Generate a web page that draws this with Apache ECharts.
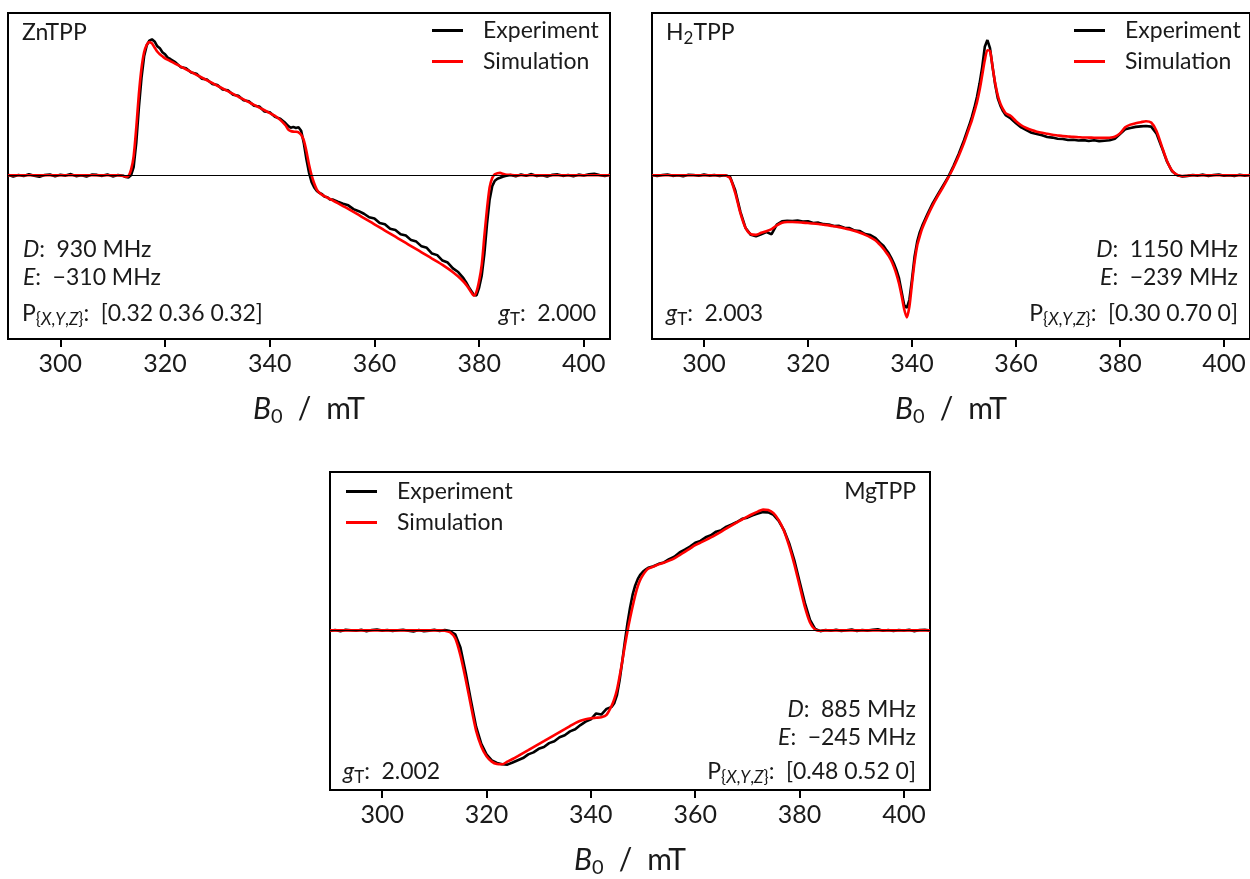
<!DOCTYPE html>
<html>
<head>
<meta charset="utf-8">
<script src="https://cdn.jsdelivr.net/npm/echarts@6/dist/echarts.min.js"></script>
<style>
html, body { margin: 0; background: #fff; }
#main { width: 1250px; height: 879px; }
</style>
</head>
<body>
<div id="main"></div>
<script>
// tick positions on every B0 axis (mT)
var tickValues = [300, 320, 340, 360, 380, 400];

// ---- ZnTPP ----
var znField = [
  290,291,292,293,294,295,296,297,298,299,300,301,302,303,304,305,306,307,308,309,310,311,312,
  312.5,313,313.5,314,314.5,315,315.5,316,316.5,317,317.5,318,318.5,319,319.5,320,320.5,321,
  322,323,324,325,326,327,328,329,330,331,332,333,334,335,336,337,338,339,340,341,342,343,
  343.5,344,344.5,345,345.5,346,346.5,347,347.5,348,348.5,349,349.5,350,350.5,351,351.5,352,
  353,354,355,356,357,358,359,360,361,362,363,364,365,366,367,368,369,370,371,372,373,374,375,376,377,
  377.5,378,378.5,379,379.5,380,380.5,381,381.5,382,382.5,383,383.5,384,384.5,385,
  386,387,388,389,390,391,392,393,394,395,396,397,398,399,400,401,402,403,404,405
];
var znExp = [
  0.5,-0.8,0.3,-0.5,0.8,-0.3,-1,0.2,0.6,-0.7,0.4,-0.2,0.9,-0.6,0.1,-0.9,0.5,0.3,-0.4,0.7,-0.8,0.2,-0.3,
  -1.2,-1.5,0,6,24,50,72,88,96,99.5,100.5,99,95.5,94,91,89.5,87,86,
  83.5,80,79.2,76,75.1,71.5,70.9,67.6,66.8,63.5,62.9,59.6,58.8,55.5,54.8,51.4,50.9,47.2,46.6,43.2,41.9,38.6,
  36.5,35.2,35.8,35,35.5,33,24,12,2,-5,-9,-11.5,-13,-14,-15.8,-16.2,-17.8,-17.9,
  -19.5,-21,-22.2,-25,-26.5,-28.4,-31,-32,-35.3,-36.2,-39.5,-40.4,-43.6,-44.5,-47.9,-49,-52.5,-53.6,-57.8,-59,-63,-64.5,-68.8,-71.5,-76,
  -79,-82.5,-85.5,-88.5,-88.8,-83,-74,-58,-36,-18,-8,-4,-2.5,-1.8,-1,-0.5,
  0.2,-0.7,0.6,-0.3,0.9,-0.5,0.1,-0.8,0.4,0.7,-0.4,0.2,-0.6,0.5,-0.2,0.8,1.2,0.3,-0.5,0.4
];
var znSim = [
  0,0,0,0,0,0,0,0,0,0,0,0,0,0,0,0,0,0,0,0,0,0,-0.5,
  -1,-0.5,4,14,35,60,79,91,96.5,98.5,97.5,94.5,91.5,89.5,88,86.5,85.5,84.5,
  82.4,80.4,78.4,76.3,74.3,72.3,70.3,68.3,66.2,64.2,62.2,60.2,58.1,56.1,54.1,52.1,50.1,48.1,46,44,41,37,
  34,32.8,32.3,32.2,31.8,30,26,18,8,0,-6,-10.5,-13,-14.5,-15.5,-16.5,-17.5,-18.5,
  -20.6,-22.7,-24.8,-27,-29.3,-31.6,-33.9,-36.2,-38.5,-40.8,-43.1,-45.4,-47.7,-50,-52.3,-54.6,-56.9,-59.2,-61.5,-63.8,-66.2,-68.8,-71.6,-74.8,-78.5,
  -80.8,-83.5,-86.5,-89,-86,-78,-66,-45,-25,-9,-2,0.8,1.6,1.8,1.2,0.6,
  0.3,0,0,0,0,0,0,0,0,0,0,0,0,0,0,0,0,0,0,0
];

// ---- H2TPP ----
var h2Field = [
  290,291,292,293,294,295,296,297,298,299,300,301,302,303,304,305,306,307,308,309,310,311,312,313,314,315,316,317,318,319,320,321,322,323,324,325,326,327,328,329,330,331,332,333,
  333.5,334,334.5,335,335.5,336,336.5,337,337.5,338,338.5,339,339.5,340,340.5,341,341.5,342,
  343,344,345,346,347,348,349,350,351,
  351.5,352,352.5,353,353.5,354,354.5,355,355.5,356,356.5,357,357.5,358,
  359,360,361,362,363,364,365,366,367,368,369,370,371,372,373,374,375,376,377,378,379,380,381,382,383,384,385,386,387,388,389,390,391,392,393,394,395,396,397,398,399,400,401,402,403,404,405
];
var h2Exp = [
  0.3,-0.5,0.2,0.6,-0.4,0.1,-0.6,0.4,0.2,-0.3,0.5,-0.2,0.3,-0.5,0.1,
  -1,-11,-27,-39,-44,-45,-43.5,-42,-43.5,-36.5,-34,-33.6,-33.8,-33.5,-34.2,-34,-35.2,-35,-36.1,-36.3,-37.5,-37.4,-38.8,-39,-40.9,-41.2,-43.4,-44.2,-46.5,
  -48.5,-50.5,-52,-54.8,-57.5,-61,-65,-70,-76,-86,-96,-98,-92,-77,-60,-49,-42,-37,
  -28.5,-20.5,-14,-7.5,-1,7,16,26,37,
  43,50,58,68,80,95,100,94,80,67,57,51.5,47.5,44.5,
  42,38.5,35.4,33.5,31.4,30.5,29.6,28.3,27.9,27,26.8,26.1,26.3,25.7,26,25.4,25.9,25.3,25.6,25.9,27,30.5,34,35,35.8,36.2,36.5,36,31,21,10.5,3,0,-0.8,-0.4,
  0.3,-0.2,0.5,-0.4,0.2,0.6,-0.3,0.1,-0.5,0.4,-0.2,0.3
];
var h2Sim = [
  0,0,0,0,0,0,0,0,0,0,0,0,0,0,0,
  -2,-13,-28,-39,-43.5,-44,-42.5,-41.3,-39.8,-37,-35,-34.5,-34.5,-34.7,-35,-35.3,-35.6,-36,-36.5,-37,-37.6,-38.3,-39.2,-40.1,-41.2,-42.5,-44,-45.8,-48.2,
  -50,-52,-54.2,-56.8,-59.5,-63,-67.5,-73,-80,-89,-99,-105,-97,-80,-64,-52,-45,-39,
  -30,-22,-15,-8.5,-1.5,6,14.5,24,35,
  40.5,47,54,63,74,85,92.5,92,80,68,59,53,49,46,
  43.8,40,37,35,33.5,32.3,31.4,30.7,30,29.5,29,28.7,28.4,28.2,28,27.9,27.8,27.7,27.7,27.8,28.5,31,35.5,37.5,38.5,39.3,40,39,33,22,11,3.5,0.3,-0.5,-0.3,
  0,0,0,0,0,0,0,0,0,0,0,0
];

// ---- MgTPP ----
var mgField = [
  290,291,292,293,294,295,296,297,298,299,300,301,302,303,304,305,306,307,308,309,310,311,312,
  313,314,315,316,317,318,319,320,321,322,323,324,325,326,327,328,329,330,331,332,333,334,335,336,337,338,339,340,341,342,343,344,
  344.5,345,345.5,346,346.5,347,347.5,348,348.5,349,349.5,350,350.5,351,
  352,353,354,355,356,357,358,359,360,361,362,363,364,365,366,367,368,369,370,371,372,373,374,375,376,377,378,379,380,381,382,383,384,385,
  386,387,388,389,390,391,392,393,394,395,396,397,398,399,400,401,402,403,404,405
];
var mgExp = [
  -0.4,0.3,-0.6,0.5,0.1,-0.3,0.4,-0.7,0.2,0.6,-0.2,0.3,-0.5,0.1,0.5,-0.3,-0.8,0.2,-0.6,-0.2,0.4,-0.5,0.2,
  -0.5,-3,-13,-32,-53,-73,-86,-94,-98.5,-100.5,-101.5,-101.8,-100.2,-98.5,-96.8,-94,-92.5,-89.8,-88.4,-85.5,-84,-81,-79.5,-76.6,-75,-71.8,-69.2,-67.5,-63,-63.8,-59.5,-58,
  -55,-49,-38,-24,-9,5,17,27,34,39,42.3,44.5,46,47.5,
  48.6,50.4,51.5,54,55.8,59,61.2,63.5,66.4,67.8,70.5,72,74.8,75.9,78.6,80.2,82.1,84.5,85.4,87.2,88.5,89.6,89.4,87.5,83,76,66,53,37,21,8,1,-0.6,0.2,
  -0.3,0.5,-0.4,0.1,0.6,-0.5,0.3,-0.2,0.4,0.8,-0.3,0.2,-0.5,0.3,-0.1,0.4,-0.6,0.2,0.5,-0.2
];
var mgSim = [
  0,0,0,0,0,0,0,0,0,0,0,0,0,0,0,0,0,0,0,0,0,0,-0.3,
  -1.5,-6,-19,-37,-57,-76,-88,-95.5,-99.5,-101.3,-101.5,-99.5,-97.5,-95.3,-93,-90.8,-88.5,-86.2,-84,-81.7,-79.4,-77.1,-74.8,-72.5,-70.3,-68.5,-67.3,-66.6,-66.2,-65.8,-64,-57,
  -52,-45,-35,-24,-12,-1,9,18,26.5,33.5,38.5,42,44.8,46.7,
  48.3,50,51.2,52.8,54.6,57,59.5,62,64.5,66.5,68.4,70.4,72.6,74.9,77.2,79.5,81.8,84,86.2,88.2,90,91.5,91.2,88.8,83.5,75.5,64,50,34,18,6,0.5,-0.3,0,
  0,0,0,0,0,0,0,0,0,0,0,0,0,0,0,0,0,0,0,0
];

var FONT = 'Lato, "DejaVu Sans", sans-serif';
var INK = '#1a1a1a';

function pairs(field, vals) {
  return field.map(function (b, i) { return [b, vals[i]]; });
}

var panels = [
  { grid: { left: 8, top: 13, width: 602, height: 326 }, field: znField, exp: znExp, sim: znSim },
  { grid: { left: 652, top: 13, width: 602, height: 326 }, field: h2Field, exp: h2Exp, sim: h2Sim },
  { grid: { left: 330, top: 472, width: 600, height: 325 }, field: mgField, exp: mgExp, sim: mgSim }
];

var grids = [], xAxes = [], yAxes = [], series = [];
panels.forEach(function (p, i) {
  grids.push({
    left: p.grid.left, top: p.grid.top, width: p.grid.width, height: p.grid.height,
    show: true, borderColor: '#000', borderWidth: 2, backgroundColor: 'transparent'
  });
  xAxes.push({
    gridIndex: i, type: 'value', min: 290, max: 405,
    splitLine: { show: false },
    axisLine: { show: true, onZero: false, lineStyle: { color: '#000', width: 2 } },
    axisTick: { show: true, inside: false, length: 8, customValues: tickValues, lineStyle: { color: '#000', width: 2 } },
    axisLabel: { customValues: tickValues, margin: 12, fontSize: 25, color: INK, fontFamily: FONT },
    name: '{bi|B}{bs|0}{bn|\u2002/\u2002mT}',
    nameLocation: 'middle',
    nameGap: 55,
    nameTextStyle: {
      color: INK, fontFamily: FONT,
      rich: {
        bi: { fontSize: 30, lineHeight: 30, verticalAlign: 'top', fontStyle: 'italic', color: INK, fontFamily: FONT },
        bs: { fontSize: 20, lineHeight: 46, color: INK, fontFamily: FONT },
        bn: { fontSize: 30, lineHeight: 30, verticalAlign: 'top', color: INK, fontFamily: FONT }
      }
    }
  });
  yAxes.push({ gridIndex: i, type: 'value', min: -121, max: 120, show: false });
  series.push({
    name: 'Experiment', type: 'line', xAxisIndex: i, yAxisIndex: i,
    data: pairs(p.field, p.exp),
    showSymbol: false, symbol: 'none', color: '#000',
    lineStyle: { color: '#000', width: 2.6 },
    markLine: {
      silent: true, symbol: 'none', label: { show: false },
      lineStyle: { color: '#000', width: 1, type: 'solid' },
      data: [{ yAxis: 0 }]
    },
    z: 2
  });
  series.push({
    name: 'Simulation', type: 'line', xAxisIndex: i, yAxisIndex: i,
    data: pairs(p.field, p.sim),
    showSymbol: false, symbol: 'none', smooth: 0.25, color: '#ff0000',
    lineStyle: { color: '#ff0000', width: 2.6 },
    z: 3
  });
});

function legendAt(left, top) {
  return {
    left: left, top: top, orient: 'vertical', itemGap: 8, padding: 0,
    icon: 'rect', itemWidth: 31, itemHeight: 3,
    data: ['Experiment', 'Simulation'],
    textStyle: { fontSize: 23, lineHeight: 23, color: INK, fontFamily: FONT, padding: [0, 0, 0, 15] }
  };
}

// rich text pieces for the annotations
var RICH = {
  m: { fontSize: 23, lineHeight: 23, verticalAlign: 'top', fill: INK, fontFamily: FONT },
  mi: { fontSize: 23, lineHeight: 23, verticalAlign: 'top', fontStyle: 'italic', fill: INK, fontFamily: FONT },
  s: { fontSize: 17, lineHeight: 36, fill: INK, fontFamily: FONT },
  si: { fontSize: 17, lineHeight: 36, fontStyle: 'italic', fill: INK, fontFamily: FONT }
};

function note(x, y, text, align) {
  return {
    type: 'text', x: x, y: y, z: 10, silent: true,
    style: {
      text: text, rich: RICH, align: align || 'left', verticalAlign: 'top',
      fill: INK, fontSize: 17, lineHeight: 36, fontFamily: FONT
    }
  };
}

var Pxyz = '{m|P}{{si|X},{si|Y},{si|Z}}';

var notes = [
  // ZnTPP
  note(22, 21, '{m|ZnTPP}'),
  note(23, 238, '{mi|D}{m|:\u2002930 MHz}'),
  note(23, 266, '{mi|E}{m|:\u2002\u2212310 MHz}'),
  note(22, 302, Pxyz + '{m|:\u2002[0.32 0.36 0.32]}'),
  note(596, 302, '{mi|g}{s|T}{m|:\u20022.000}', 'right'),
  // H2TPP
  note(666, 21, '{m|H}{s|2}{m|TPP}'),
  note(1238, 238, '{mi|D}{m|:\u20021150 MHz}', 'right'),
  note(1238, 266, '{mi|E}{m|:\u2002\u2212239 MHz}', 'right'),
  note(1238, 302, Pxyz + '{m|:\u2002[0.30 0.70 0]}', 'right'),
  note(666, 302, '{mi|g}{s|T}{m|:\u20022.003}'),
  // MgTPP
  note(916, 480, '{m|MgTPP}', 'right'),
  note(916, 698, '{mi|D}{m|:\u2002885 MHz}', 'right'),
  note(916, 726, '{mi|E}{m|:\u2002\u2212245 MHz}', 'right'),
  note(916, 760, Pxyz + '{m|:\u2002[0.48 0.52 0]}', 'right'),
  note(343, 760, '{mi|g}{s|T}{m|:\u20022.002}')
];

var chart = echarts.init(document.getElementById('main'));
chart.setOption({
  animation: false,
  backgroundColor: '#fff',
  grid: grids,
  xAxis: xAxes,
  yAxis: yAxes,
  legend: [legendAt(432, 19), legendAt(1074, 19), legendAt(346, 480)],
  series: series,
  graphic: notes
});
</script>
</body>
</html>
